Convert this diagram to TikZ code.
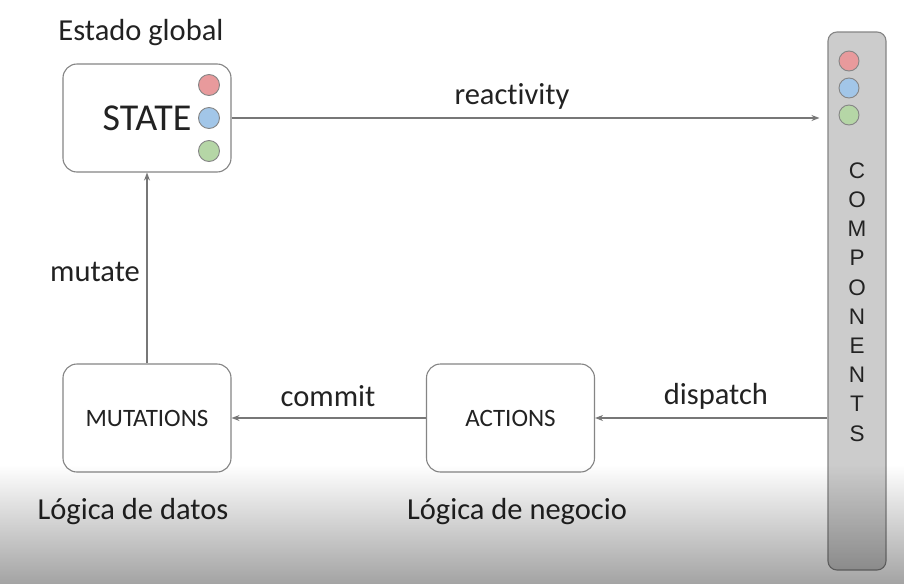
\documentclass[tikz,border=0pt]{standalone}
\usepackage{fontspec}
\setmainfont{Carlito}[Ligatures=NoCommon]
\newfontfamily\compfont{Liberation Sans}
\usetikzlibrary{arrows.meta,fadings}
\definecolor{edgegray}{HTML}{858585}
\definecolor{linegray}{HTML}{777777}
\definecolor{txt}{HTML}{222222}
\definecolor{cred}{HTML}{E89A9C}
\definecolor{cblue}{HTML}{A2C6E8}
\definecolor{cgreen}{HTML}{B5D6A6}
\definecolor{barfill}{HTML}{CCCCCC}
\tikzfading[name=fadedown, top color=transparent!100, middle color=transparent!85, bottom color=transparent!0]
\tikzset{
  box/.style={draw=edgegray, line width=1.1pt, rounded corners=14pt, fill=white,
    minimum width=168pt, minimum height=108pt, inner sep=0pt},
  dot/.style={circle, draw=edgegray, line width=0.9pt, minimum size=21pt, inner sep=0pt},
  lbl/.style={text=txt, font=\fontsize{30.5}{34}\selectfont, inner sep=0pt},
  conn/.style={draw=linegray, line width=1.1pt, -{Stealth[length=8pt,width=6pt]}},
}
\begin{document}
\begin{tikzpicture}[x=1pt,y=-1pt]
\useasboundingbox (0,0) rectangle (906,584);
\fill[white] (0,0) rectangle (906,584);

% STATE box
\node[box, text=txt, font=\fontsize{38}{40}\selectfont] (state) at (147,118) {STATE\hspace{26pt}};
\node[dot, fill=cred] (sred) at (209,85) {};
\node[dot, fill=cblue] (sblue) at (209,118) {};
\node[dot, fill=cgreen] (sgreen) at (209,151) {};

% components bar
\node[draw=edgegray, line width=1.1pt, fill=barfill, rounded corners=9pt,
  minimum width=58pt, minimum height=538pt, inner sep=0pt] (comp) at (857,301) {};
\node[dot, fill=cred, minimum size=20pt] (cred1) at (849,61) {};
\node[dot, fill=cblue, minimum size=20pt] (cblue1) at (849,88) {};
\node[dot, fill=cgreen, minimum size=20pt] (cgreen1) at (849,115) {};
\node[text=txt, align=center, inner sep=0pt, font=\compfont\fontsize{22.5}{29.2}\selectfont]
  (complabel) at (857,302) {C\\O\\M\\P\\O\\N\\E\\N\\T\\S};

% bottom boxes
\node[box, text=txt, font=\fontsize{25}{28}\selectfont] (mut) at (147,418) {MUTATIONS};
\node[box, text=txt, font=\fontsize{25}{28}\selectfont] (act) at (510.5,418) {ACTIONS};

% connectors
\draw[conn, shorten >=8pt] (state.east) -- (state.east -| comp.west);
\draw[conn] (comp.west |- act.east) -- (act.east);
\draw[conn] (act.west) -- (mut.east);
\draw[conn] (mut.north) -- (state.south);

% labels
\node[lbl] (tglobal) at (141,33) {Estado global};
\node[lbl] (treact) at (512,96) {reactivity};
\node[lbl] (tcommit) at (328,396) {commit};
\node[lbl] (tdispatch) at (716,396) {dispatch};
\node[lbl] (tmutate) at (95,272) {mutate};
\node[lbl] (tdatos) at (133,512) {Lógica de datos};
\node[lbl] (tnegocio) at (517,512) {Lógica de negocio};

% bottom darkening overlay
\fill[black, opacity=0.36, path fading=fadedown] (0,465) rectangle (906,584);
\end{tikzpicture}
\end{document}
